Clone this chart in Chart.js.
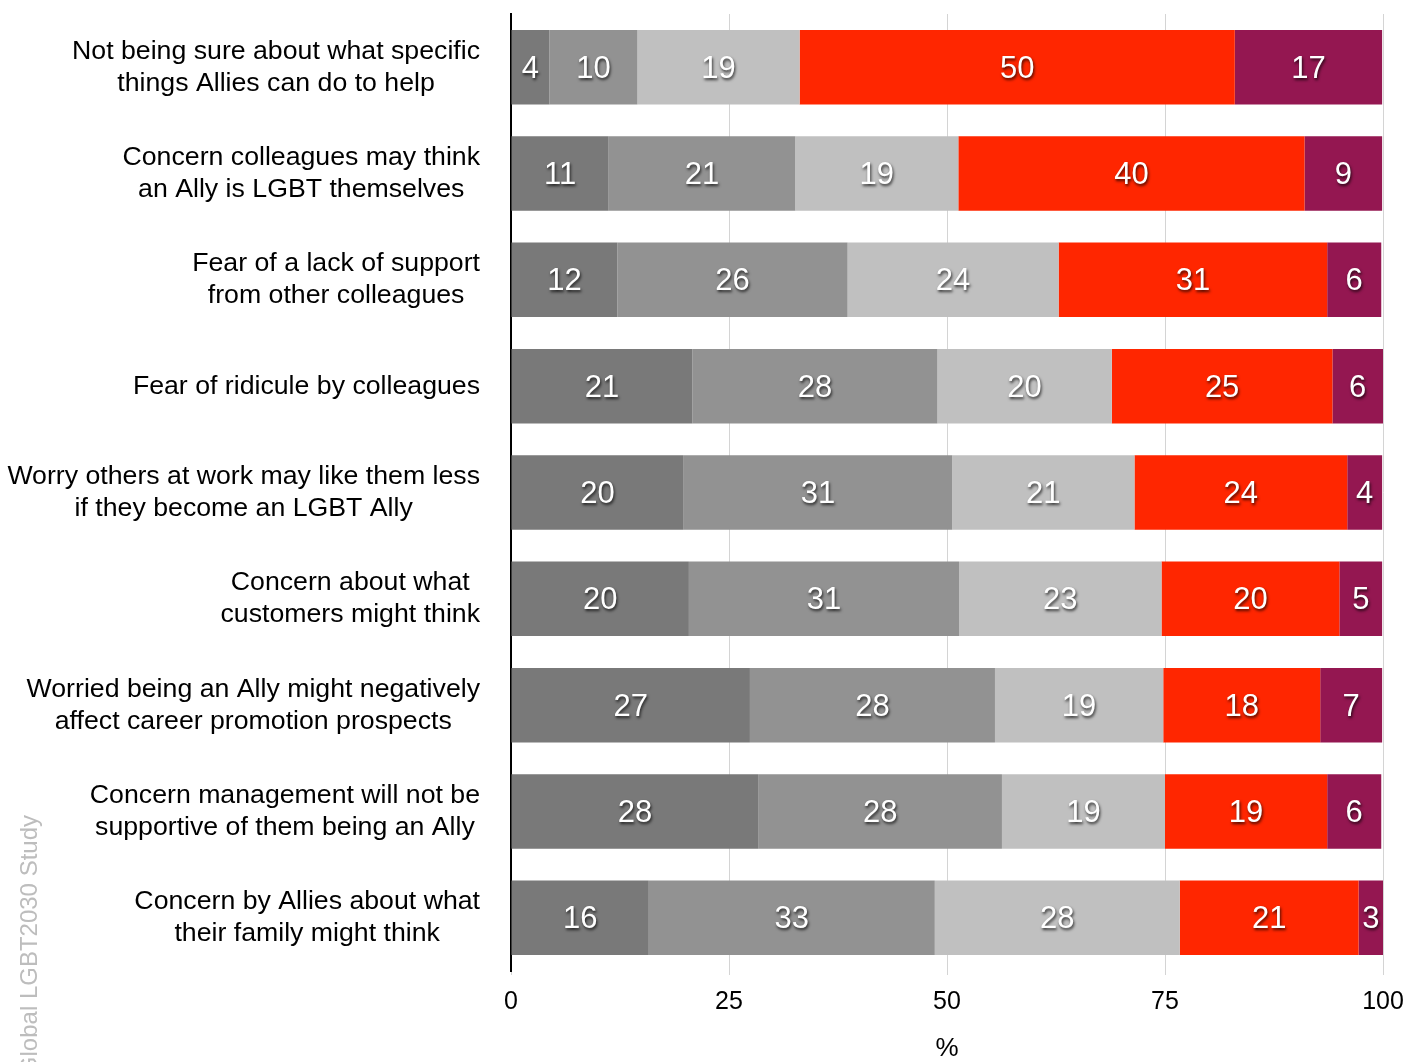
<!DOCTYPE html>
<html>
<head>
<meta charset="utf-8">
<script src="https://cdn.jsdelivr.net/npm/chart.js@4.4.1/dist/chart.umd.min.js"></script>
<style>
  html, body { margin: 0; padding: 0; background: #fff; }
  #wrap { width: 1422px; height: 1062px; position: relative; }
</style>
</head>
<body>
<div id="wrap"><canvas id="chart" width="1422" height="1062"></canvas></div>
<script>
// categories, top to bottom
const categories = [
  ['Not being sure about what specific', 'things Allies can do to help'],
  ['Concern colleagues may think', 'an Ally is LGBT themselves'],
  ['Fear of a lack of support', 'from other colleagues'],
  ['Fear of ridicule by colleagues'],
  ['Worry others at work may like them less', 'if they become an LGBT Ally'],
  ['Concern about what', 'customers might think'],
  ['Worried being an Ally might negatively', 'affect career promotion prospects'],
  ['Concern management will not be', 'supportive of them being an Ally'],
  ['Concern by Allies about what', 'their family might think']
];

// series values (%)
const seriesA = [4.4, 11.2, 12.2, 20.8, 19.8, 20.4, 27.4, 28.4, 15.8];
const seriesB = [10.1, 21.4, 26.4, 28.1, 30.8, 31.0, 28.1, 27.9, 32.8];
const seriesC = [18.6, 18.7, 24.2, 20.0, 20.9, 23.2, 19.3, 18.7, 28.1];
const seriesD = [49.9, 39.7, 30.8, 25.3, 24.4, 20.4, 18.0, 18.6, 20.5];
const seriesE = [16.9, 8.9, 6.2, 5.8, 4.0, 4.9, 7.1, 6.2, 2.8];

const xTicks = [0, 25, 50, 75, 100];
const sideNote = 'Global LGBT2030 Study';

const colors = ['#797979', '#929292', '#c0c0c0', '#ff2600', '#941751'];

const FONT = '"Liberation Sans", Arial, Helvetica, sans-serif';

// white value labels with a dark drop shadow
const valueLabels = {
  id: 'valueLabels',
  afterDatasetsDraw(chart) {
    const ctx = chart.ctx;
    ctx.save();
    ctx.font = '31px ' + FONT;
    ctx.fillStyle = '#fff';
    ctx.textAlign = 'center';
    ctx.textBaseline = 'middle';
    ctx.shadowColor = 'rgba(0,0,0,0.75)';
    ctx.shadowOffsetX = 1;
    ctx.shadowOffsetY = 2;
    ctx.shadowBlur = 3;
    chart.data.datasets.forEach((ds, i) => {
      const meta = chart.getDatasetMeta(i);
      meta.data.forEach((bar, j) => {
        const v = ds.data[j];
        const x = (bar.x + bar.base) / 2;
        ctx.fillText(String(Math.round(v)), x, bar.y + 2);
      });
    });
    ctx.restore();
  }
};

// category labels: each block right-aligned, lines centred within the block
const categoryLabels = {
  id: 'categoryLabels',
  afterDraw(chart) {
    const ctx = chart.ctx;
    const yScale = chart.scales.y;
    const right = chart.chartArea.left - 31;
    ctx.save();
    ctx.font = '26.7px ' + FONT;
    ctx.fillStyle = '#000';
    ctx.textBaseline = 'middle';
    ctx.textAlign = 'center';
    const lh = 32;
    categories.forEach((lines, i) => {
      const cy = yScale.getPixelForValue(i);
      const w = Math.max(...lines.map(l => ctx.measureText(l).width));
      const cx = right - w / 2;
      const y0 = cy - (lines.length - 1) * lh / 2;
      lines.forEach((l, k) => ctx.fillText(l, cx, y0 + k * lh));
    });
    // rotated side note
    ctx.font = '24px ' + FONT;
    ctx.fillStyle = '#bdbdbd';
    ctx.translate(30, 815);
    ctx.rotate(-Math.PI / 2);
    ctx.textAlign = 'right';
    ctx.fillText(sideNote, 0, 0);
    ctx.restore();
  }
};

const datasets = [seriesA, seriesB, seriesC, seriesD, seriesE].map((d, i) => ({
  label: 'S' + (i + 1),
  data: d,
  backgroundColor: colors[i],
  borderWidth: 0,
  barPercentage: 0.7,
  categoryPercentage: 1.0
}));

new Chart(document.getElementById('chart'), {
  type: 'bar',
  data: { labels: categories.map(c => c.join(' ')), datasets: datasets },
  options: {
    indexAxis: 'y',
    responsive: false,
    animation: false,
    layout: { padding: { top: 14, right: 39, left: 0, bottom: 0 } },
    plugins: {
      legend: { display: false },
      tooltip: { enabled: false },
      title: { display: false }
    },
    scales: {
      x: {
        stacked: true,
        min: 0,
        max: 100,
        afterBuildTicks(scale) { scale.ticks = xTicks.map(v => ({ value: v })); },
        afterFit(scale) { scale.height = 91; },
        grid: { color: '#d4d4d4', lineWidth: 1, drawTicks: true, tickLength: 4 },
        border: { display: false },
        ticks: { color: '#000', font: { family: FONT, size: 25 }, padding: 12 },
        title: { display: true, text: '%', color: '#000', font: { family: FONT, size: 26, lineHeight: 1.0 }, padding: { top: 0, bottom: 0 } }
      },
      y: {
        stacked: true,
        grid: { display: false },
        border: { display: true, color: '#000', width: 2 },
        ticks: { display: false },
        afterFit(scale) { scale.width = 511; }
      }
    }
  },
  plugins: [valueLabels, categoryLabels]
});
</script>
</body>
</html>
